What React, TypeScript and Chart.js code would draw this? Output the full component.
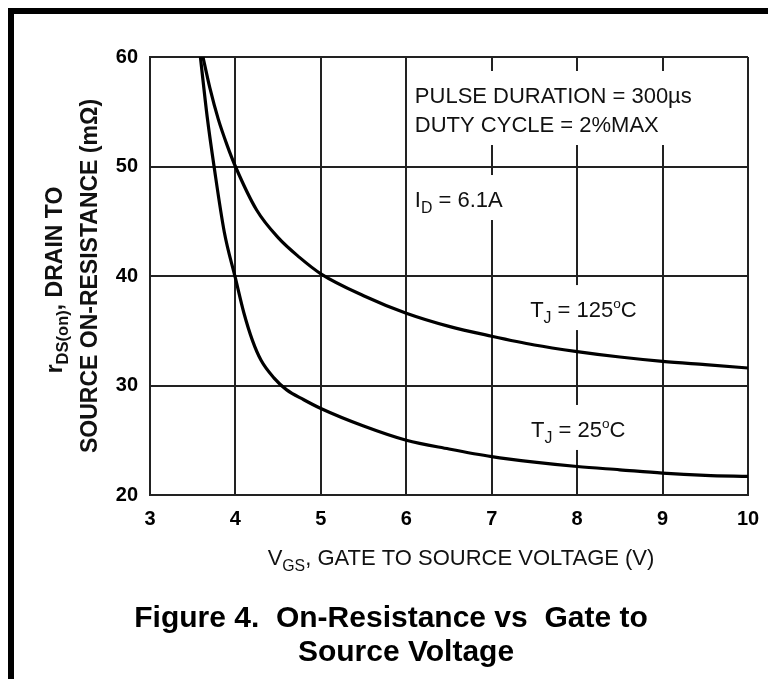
import React, { useEffect, useRef } from "react";
import { Chart, registerables } from "chart.js";

Chart.register(...registerables);

// ---- data ----
const VGS_25 = [3.59, 3.67, 3.75, 3.87, 4.0, 4.1, 4.2, 4.3, 4.45, 4.6, 4.8, 5.0, 5.5, 6.0, 6.5, 7.0, 7.5, 8.0, 8.5, 9.0, 9.5, 10.0];
const RDS_25 = [60, 54.5, 50, 44, 39.8, 36.6, 34.1, 32.3, 30.7, 29.6, 28.7, 27.9, 26.3, 25.0, 24.2, 23.5, 23.0, 22.6, 22.3, 22.0, 21.8, 21.7];

const VGS_125 = [3.62, 3.7, 3.8, 3.9, 4.0, 4.25, 4.5, 4.75, 5.0, 5.5, 6.0, 6.5, 7.0, 7.5, 8.0, 8.5, 9.0, 9.5, 10.0];
const RDS_125 = [60, 57.2, 54.3, 52.0, 50, 46.0, 43.5, 41.7, 40.2, 38.2, 36.6, 35.4, 34.5, 33.7, 33.1, 32.6, 32.2, 31.9, 31.6];

const X_TICKS = [3, 4, 5, 6, 7, 8, 9, 10];
const Y_TICKS = [20, 30, 40, 50, 60];

type Run = { t: string; sub?: boolean; sup?: boolean };

const NOTE_PULSE: Run[] = [{ t: "PULSE DURATION = 300µs" }];
const NOTE_DUTY: Run[] = [{ t: "DUTY CYCLE = 2%MAX" }];
const NOTE_ID: Run[] = [{ t: "I" }, { t: "D", sub: true }, { t: " = 6.1A" }];
const NOTE_T125: Run[] = [{ t: "T" }, { t: "J", sub: true }, { t: " = 125" }, { t: "o", sup: true }, { t: "C" }];
const NOTE_T25: Run[] = [{ t: "T" }, { t: "J", sub: true }, { t: " = 25" }, { t: "o", sup: true }, { t: "C" }];

const X_TITLE: Run[] = [{ t: "V" }, { t: "GS", sub: true }, { t: ", GATE TO SOURCE VOLTAGE (V)" }];
const Y_TITLE_1: Run[] = [{ t: "r" }, { t: "DS(on)", sub: true }, { t: ", DRAIN TO" }];
const Y_TITLE_2: Run[] = [{ t: "SOURCE ON-RESISTANCE (mΩ)" }];
const CAPTION = ["Figure 4.  On-Resistance vs  Gate to", "Source Voltage"];

const FONT = '"Liberation Sans", Arial, sans-serif';

function runFont(size: number, weight: string, r: Run) {
  const s = r.sub ? size * 0.72 : r.sup ? size * 0.62 : size;
  return `${weight} ${s}px ${FONT}`;
}
function measureRuns(ctx: CanvasRenderingContext2D, runs: Run[], size: number, weight: string) {
  let w = 0;
  for (const r of runs) {
    ctx.font = runFont(size, weight, r);
    w += ctx.measureText(r.t).width;
  }
  return w;
}
function drawRuns(ctx: CanvasRenderingContext2D, runs: Run[], x: number, y: number, size: number, weight: string) {
  let cx = x;
  ctx.textAlign = "left";
  ctx.textBaseline = "alphabetic";
  for (const r of runs) {
    ctx.font = runFont(size, weight, r);
    const dy = r.sub ? size * 0.28 : r.sup ? -size * 0.4 : 0;
    ctx.fillText(r.t, cx, y + dy);
    cx += ctx.measureText(r.t).width;
  }
  return cx - x;
}

const decorPlugin = {
  id: "decor",
  beforeDatasetsDraw(chart: any) {
    const ctx: CanvasRenderingContext2D = chart.ctx;
    const xs = chart.scales.x;
    const ys = chart.scales.y;
    const NOTE_SIZE = 22;
    const notes: { lines: Run[][]; x: number; y: number[] }[] = [
      { lines: [NOTE_PULSE, NOTE_DUTY], x: 6.1, y: [55.8, 53.15] },
      { lines: [NOTE_ID], x: 6.1, y: [46.3] },
      { lines: [NOTE_T125], x: 7.45, y: [36.25] },
      { lines: [NOTE_T25], x: 7.46, y: [25.3] },
    ];
    ctx.save();
    for (const n of notes) {
      const left = xs.getPixelForValue(n.x);
      const bases = n.y.map((v) => ys.getPixelForValue(v));
      let w = 0;
      for (const l of n.lines) w = Math.max(w, measureRuns(ctx, l, NOTE_SIZE, "normal"));
      ctx.fillStyle = "#ffffff";
      const top = bases[0] - 32;
      const bottom = bases[bases.length - 1] + 13;
      ctx.fillRect(left - 6, top, w + 12, bottom - top);
      ctx.fillStyle = "#111";
      n.lines.forEach((l, i) => drawRuns(ctx, l, left, bases[i], NOTE_SIZE, "normal"));
    }
    ctx.restore();
  },
  afterDraw(chart: any) {
    const ctx: CanvasRenderingContext2D = chart.ctx;
    const area = chart.chartArea;
    ctx.save();
    // outer frame (top & left edges)
    ctx.fillStyle = "#000";
    ctx.fillRect(8, 8, chart.width - 8, 6);
    ctx.fillRect(8, 8, 6, chart.height - 8);

    ctx.fillStyle = "#111";
    // x axis title
    const XT = 22;
    const xw = measureRuns(ctx, X_TITLE, XT, "normal");
    drawRuns(ctx, X_TITLE, 461 - xw / 2, 565, XT, "normal");

    // y axis title (two rotated lines)
    const YT = 23;
    const cy = (area.top + area.bottom) / 2;
    const lines: [Run[], number, number][] = [
      [Y_TITLE_1, 62, cy + 4],
      [Y_TITLE_2, 97, cy],
    ];
    for (const [runs, bx, c] of lines) {
      const w = measureRuns(ctx, runs, YT, "bold");
      ctx.save();
      ctx.translate(bx, c);
      ctx.rotate(-Math.PI / 2);
      drawRuns(ctx, runs, -w / 2, 0, YT, "bold");
      ctx.restore();
    }

    // caption
    ctx.font = `bold 30px ${FONT}`;
    ctx.textAlign = "center";
    ctx.textBaseline = "alphabetic";
    ctx.fillStyle = "#000";
    ctx.fillText(CAPTION[0], 391, 627);
    ctx.fillText(CAPTION[1], 406, 661);
    ctx.restore();
  },
};

export default function App() {
  const ref = useRef<HTMLCanvasElement | null>(null);
  useEffect(() => {
    if (!ref.current) return;
    const chart = new Chart(ref.current, {
      type: "line",
      data: {
        datasets: [
          {
            label: "TJ = 125°C",
            data: VGS_125.map((x, i) => ({ x, y: RDS_125[i] })),
            borderColor: "#000",
            borderWidth: 3.2,
            pointRadius: 0,
            fill: false,
            cubicInterpolationMode: "monotone",
          },
          {
            label: "TJ = 25°C",
            data: VGS_25.map((x, i) => ({ x, y: RDS_25[i] })),
            borderColor: "#000",
            borderWidth: 3.2,
            pointRadius: 0,
            fill: false,
            cubicInterpolationMode: "monotone",
          },
        ],
      },
      options: {
        animation: false,
        responsive: false,
        devicePixelRatio: 1,
        layout: { padding: { top: 57, right: 20, left: 0, bottom: 0 } },
        plugins: {
          legend: { display: false },
          title: { display: false },
          tooltip: { enabled: false },
        },
        scales: {
          x: {
            type: "linear",
            min: 3,
            max: 10,
            afterBuildTicks: (s: any) => {
              s.ticks = X_TICKS.map((v) => ({ value: v }));
            },
            afterFit: (s: any) => {
              s.height = 679 - 495;
              s.paddingLeft = 0;
              s.paddingRight = 0;
            },
            grid: { color: "#222", lineWidth: 2, drawTicks: false },
            border: { color: "#222", width: 2 },
            ticks: {
              color: "#000",
              padding: 12,
              maxRotation: 0,
              autoSkip: false,
              font: { family: FONT, size: 20, weight: "bold" },
            },
          },
          y: {
            type: "linear",
            min: 20,
            max: 60,
            afterBuildTicks: (s: any) => {
              s.ticks = Y_TICKS.map((v) => ({ value: v }));
            },
            afterFit: (s: any) => {
              s.width = 150;
              s.paddingTop = 0;
              s.paddingBottom = 0;
            },
            grid: { color: "#222", lineWidth: 2, drawTicks: false },
            border: { color: "#222", width: 2 },
            ticks: {
              color: "#000",
              padding: 12,
              font: { family: FONT, size: 20, weight: "bold" },
            },
          },
        },
      },
      plugins: [decorPlugin],
    } as any);
    return () => chart.destroy();
  }, []);
  return (
    <div style={{ position: "absolute", left: 0, top: 0, width: 768, height: 679, background: "#fff" }}>
      <canvas ref={ref} width={768} height={679} style={{ display: "block", width: 768, height: 679 }} />
    </div>
  );
}
